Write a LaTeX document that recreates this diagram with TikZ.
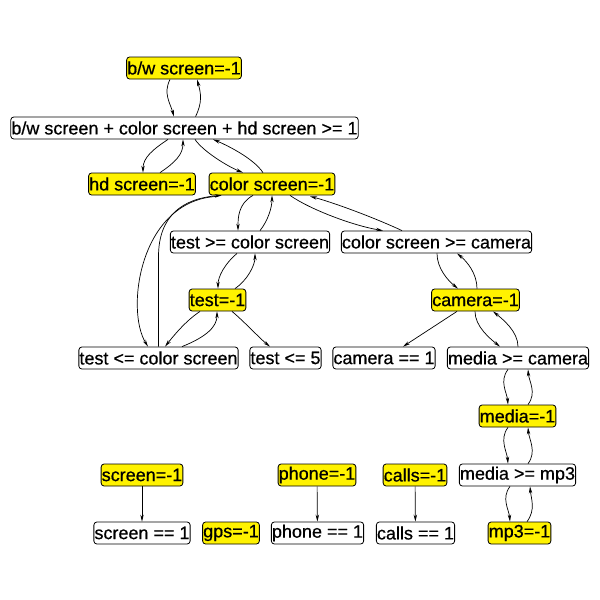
\documentclass[tikz,border=0pt]{standalone}
\usepackage{fontspec}
\setmainfont{Liberation Sans}
\newfontfamily\nodefont{Liberation Sans}[BoldFont={Liberation Sans},BoldFeatures={FakeBold=0.6}]
\usetikzlibrary{arrows.meta,calc}
\begin{document}
\begin{tikzpicture}[x=1pt,y=-1pt,
  box/.style={draw=black,line width=0.8pt,rounded corners=3pt,fill=white,
    inner xsep=0.6pt,inner ysep=0pt,minimum height=22pt,
    font=\nodefont\bfseries\fontsize{18}{20}\selectfont},
  ybox/.style={box,fill=yellow},
  arr/.style={line width=0.7pt,-{Stealth[length=7pt,width=3.4pt]}}]
\useasboundingbox (0,0) rectangle (600,600);
\node[ybox] (bw) at (184,68) {b/w screen=-1};
\node[box] (sum) at (184.5,128) {b/w screen + color screen + hd screen >= 1};
\node[ybox] (hd) at (142,184) {hd screen=-1};
\node[ybox] (color) at (272,184) {color screen=-1};
\node[box] (tge) at (250,242) {test >= color screen};
\node[box] (cge) at (436.5,242) {color screen >= camera};
\node[ybox] (test) at (217.5,300) {test=-1};
\node[box] (tle) at (158.5,358) {test <= color screen};
\node[box] (t5) at (285.5,358) {test <= 5};
\node[ybox] (camera) at (475.5,300) {camera=-1};
\node[box] (cam1) at (384,358) {camera == 1};
\node[box] (mgc) at (518,358) {media >= camera};
\node[ybox] (media) at (517.5,416) {media=-1};
\node[box] (mgm) at (517.5,475) {media >= mp3};
\node[ybox] (mp3) at (519.5,533) {mp3=-1};
\node[ybox] (screen) at (142,475) {screen=-1};
\node[box] (scr1) at (142,533) {screen == 1};
\node[ybox] (gps) at (231,533) {gps=-1};
\node[ybox] (phone) at (317,475) {phone=-1};
\node[box] (ph1) at (317.5,533) {phone == 1};
\node[ybox] (calls) at (415,475) {calls=-1};
\node[box] (cl1) at (415.5,533) {calls == 1};

% bw <-> sum
\draw[arr] ($(bw.south)+(-14,0)$) .. controls +(-7,14) and +(-4,-14) .. ($(sum.north)+(-10.5,0)$);
\draw[arr] ($(sum.north)+(11,0)$) .. controls +(7,-14) and +(4,14) .. ($(bw.south)+(13,0)$);
% sum <-> hd
\draw[arr] ($(sum.south)+(-16.5,0)$) .. controls +(-15,10) and +(0,-15) .. ($(hd.north)+(1,0)$);
\draw[arr] ($(hd.north)+(18,0)$) .. controls +(15,-10) and +(0,15) .. ($(sum.south)+(-1.5,0)$);
% sum <-> color
\draw[arr] ($(sum.south)+(10.5,0)$) .. controls +(8,12) and +(-15,-6) .. ($(color.north)+(-29,0)$);
\draw[arr] ($(color.north)+(-9,0)$) .. controls +(-10,-15) and +(12,5) .. ($(sum.south)+(28.5,0)$);
% color <-> tge
\draw[arr] ($(color.south)+(-19,0)$) .. controls +(-15,8) and +(0,-12) .. ($(tge.north)+(-12,0)$);
\draw[arr] ($(tge.north)+(10,0)$) .. controls +(8,-10) and +(0,12) .. (color.south);
% color <-> tle
\draw[arr] ($(color.south)+(-55,1)$) .. controls +(-77,4) and +(-23,-37) .. ($(tle.north)+(-10.5,0)$);
\draw[arr] (tle.north) -- ++(0,-90) .. controls +(0,-40) and +(-40,3) .. ($(color.south west)+(13,0)$);
% tge <-> test
\draw[arr] ($(tge.south)+(-13,0)$) .. controls +(-12,10) and +(0,-12) .. ($(test.north)+(0.5,0)$);
\draw[arr] ($(test.north)+(17.5,0)$) .. controls +(12,-8) and +(0,12) .. ($(tge.south)+(5,0)$);
% test <-> tle, test -> t5
\draw[arr] ($(test.south)+(-17.5,0)$) .. controls +(-15,10) and +(8,-10) .. ($(tle.north)+(6.5,0)$);
\draw[arr] ($(tle.north)+(23.5,0)$) .. controls +(25,-10) and +(0,15) .. ($(test.south)+(-0.5,0)$);
\draw[arr] ($(test.south)+(14.5,0)$) .. controls +(12,10) and +(-10,-8) .. ($(t5.north)+(-15.5,0)$);
% color <-> cge
\draw[arr] ($(color.south)+(18,0)$) .. controls +(20,14) and +(-30,-5) .. ($(cge.north)+(-53.5,0)$);
\draw[arr] ($(cge.north)+(-34.5,0)$) .. controls +(-30,-14) and +(20,5) .. ($(color.south)+(38,1)$);
% cge <-> camera
\draw[arr] ($(cge.south)+(0.5,0)$) .. controls +(0,15) and +(-10,-8) .. ($(camera.north)+(-17.5,0)$);
\draw[arr] ($(camera.north)+(1.5,0)$) .. controls +(0,-15) and +(10,8) .. ($(cge.south)+(20.5,0)$);
% camera -> cam1, camera <-> mgc
\draw[arr] ($(camera.south)+(-18.5,0)$) -- ($(cam1.north)+(19,0)$);
\draw[arr] ($(camera.south)+(-0.5,0)$) .. controls +(0,15) and +(-10,-8) .. ($(mgc.north)+(-18,0)$);
\draw[arr] (mgc.north) .. controls +(0,-15) and +(10,8) .. ($(camera.south)+(17.5,0)$);
% mgc <-> media
\draw[arr] ($(mgc.south)+(-10,0)$) .. controls +(-9,12) and +(-1,-12) .. ($(media.north)+(-9.5,0)$);
\draw[arr] ($(media.north)+(10.5,0)$) .. controls +(9,-12) and +(1,12) .. ($(mgc.south)+(10,0)$);
% media <-> mgm
\draw[arr] ($(media.south)+(-9.5,0)$) .. controls +(-9,12) and +(-1,-12) .. ($(mgm.north)+(-9.5,0)$);
\draw[arr] ($(mgm.north)+(10.5,0)$) .. controls +(9,-12) and +(1,12) .. ($(media.south)+(10.5,0)$);
% mgm <-> mp3
\draw[arr] ($(mgm.south)+(-7.5,0)$) .. controls +(-9,12) and +(-1,-12) .. ($(mp3.north)+(-9.5,0)$);
\draw[arr] ($(mp3.north)+(7.5,0)$) .. controls +(9,-12) and +(1,12) .. ($(mgm.south)+(12.5,0)$);
% singles
\draw[arr] (screen) -- (scr1);
\draw[arr] (phone) -- (ph1);
\draw[arr] (calls) -- (cl1);
\end{tikzpicture}
\end{document}
